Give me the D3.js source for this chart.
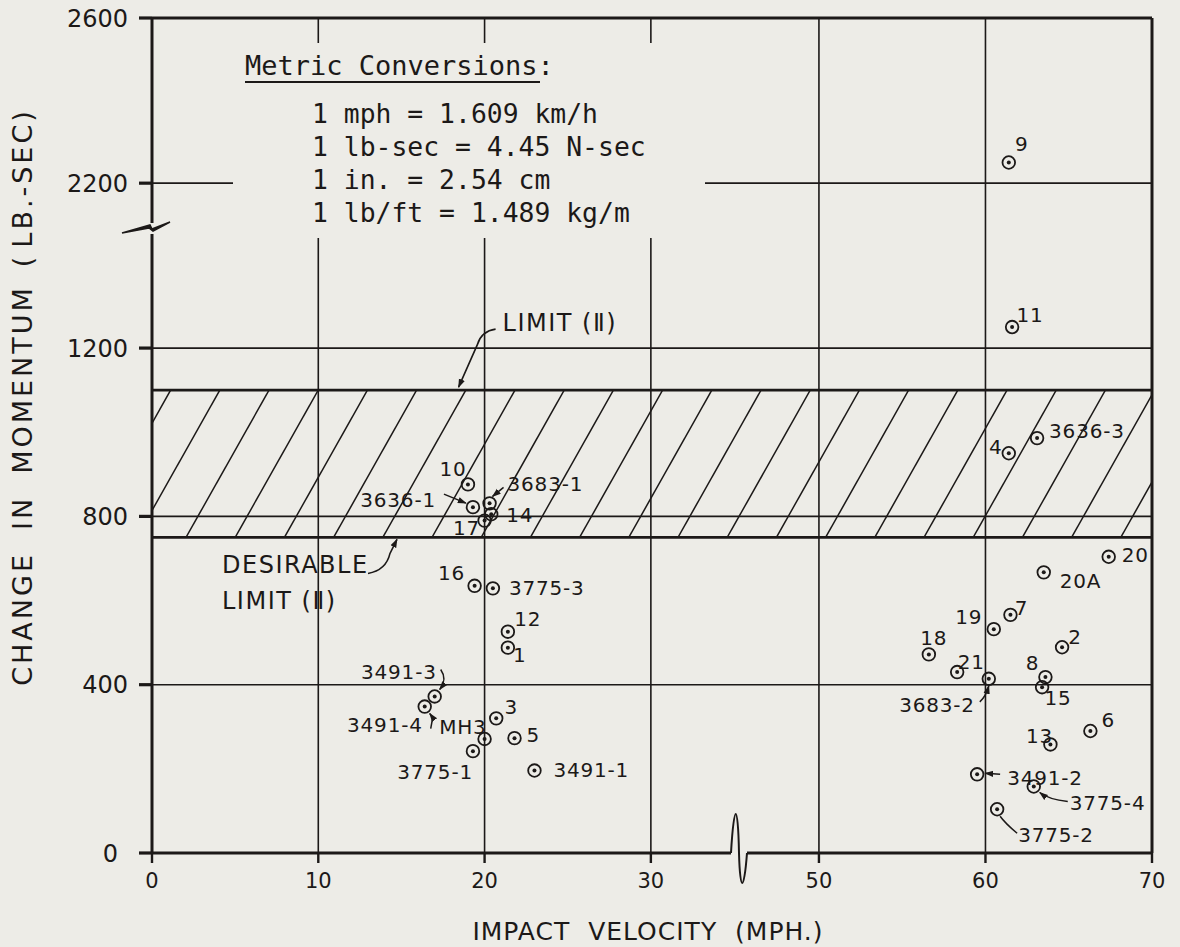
<!DOCTYPE html>
<html>
<head>
<meta charset="utf-8">
<script src="https://cdn.jsdelivr.net/npm/d3@7/dist/d3.min.js"></script>
<style>
  body { margin: 0; background: #edece7; }
  svg { display: block; }
  text { font-family: "DejaVu Sans", sans-serif; fill: #1c1918; }
  .mono { font-family: "DejaVu Sans Mono", monospace; }
</style>
</head>
<body>
<div id="chart"></div>
<script>
// Test identifiers and readings (impact velocity in mph, change in momentum in lb-sec)
const testIds = ["10", "3636-1", "3683-1", "14", "17", "16", "3775-3", "12", "1", "3491-3",
  "3491-4", "3", "MH3", "5", "3775-1", "3491-1", "20", "20A", "7", "19",
  "2", "18", "21", "8", "3683-2", "15", "6", "13", "3491-2", "3775-4",
  "3775-2", "4", "3636-3", "9", "11"];
const velocityMph = [19.0, 19.3, 20.3, 20.4, 20.0, 19.4, 20.5, 21.4, 21.4, 17.0,
  16.4, 20.7, 20.0, 21.8, 19.3, 23.0, 67.4, 63.5, 61.5, 60.5,
  64.6, 56.6, 58.3, 63.6, 60.2, 63.4, 66.3, 63.9, 59.5, 62.9,
  60.7, 61.4, 63.1, 61.4, 61.6];
const momentumLbSec = [876, 822, 831, 805, 790, 635, 629, 526, 488, 372,
  348, 320, 271, 273, 242, 196, 704, 667, 566, 532,
  489, 472, 430, 418, 414, 394, 290, 258, 187, 158,
  104, 950, 986, 2250, 1250];

const xTicks = [0, 10, 20, 30, 50, 60, 70];
const yTicks = [0, 400, 800, 1200, 2200, 2600];
const xBreak = [35.3, 45.2];     // axis break on velocity
const yBreak = [1483, 2089];     // axis break on momentum
const desirableLimit = 750;
const maxLimit = 1100;
const conversions = ["1 mph = 1.609 km/h", "1 lb-sec = 4.45 N-sec", "1 in. = 2.54 cm", "1 lb/ft = 1.489 kg/m"];

// Label placement: [anchor, dx, dy] relative to the marker
const labelLayout = {
  "10": ["middle", -15, -16], "3636-1": ["end", -37, -7], "3683-1": ["start", 18, -20],
  "14": ["start", 15, 1], "17": ["middle", -18, 7], "16": ["middle", -23, -13],
  "3775-3": ["start", 16, -1], "12": ["middle", 20, -13], "1": ["middle", 12, 7],
  "3491-3": ["end", 2, -25], "3491-4": ["end", -2, 18], "3": ["middle", 15, -12],
  "MH3": ["end", 2, -12], "5": ["start", 12, -3], "3775-1": ["end", 0, 21],
  "3491-1": ["start", 19, -1], "20": ["start", 13, -2], "20A": ["start", 16, 8],
  "7": ["middle", 11, -7], "19": ["middle", -25, -12], "2": ["middle", 13, -10],
  "18": ["middle", 5, -17], "21": ["middle", 14, -10], "8": ["middle", -13, -14],
  "3683-2": ["end", -14, 26], "15": ["middle", 16, 11], "6": ["middle", 18, -11],
  "13": ["middle", -11, -9], "3491-2": ["start", 30, 3], "3775-4": ["start", 36, 16],
  "3775-2": ["start", 21, 26], "4": ["middle", -13, -6], "3636-3": ["start", 12, -7],
  "9": ["middle", 13, -19], "11": ["middle", 18, -12]
};

// Leader lines from label to marker (relative path, arrowhead flag)
const leaders = {
  "3636-1": ["M-29,-13 L-7,-4", true],
  "3683-1": ["M14,-16 L3,-7", true],
  "3491-3": ["M6,-27 Q13,-17 5,-7", true],
  "3491-4": ["M6,22 L8,11 L5,7", true],
  "3683-2": ["M-9,23 Q-3,18 0,7", true],
  "3491-2": ["M23,0 L8,-1", true],
  "3775-4": ["M34,15 Q15,13 6,6", true],
  "3775-2": ["M20,24 Q8,14 3,7", false]
};

const width = 1180, height = 947;
const frame = { left: 152, right: 1152, top: 18, bottom: 853 };
const ink = "#1c1918";

const x = d3.scaleLinear()
  .domain([0, xBreak[0], xBreak[1], 70])
  .range([frame.left, 739, 739, frame.right]);
const y = d3.scaleLinear()
  .domain([0, yBreak[0], yBreak[1], 2600])
  .range([frame.bottom, 229, 229, frame.top]);

const svg = d3.select("#chart").append("svg")
  .attr("width", width).attr("height", height);

const defs = svg.append("defs");
defs.append("marker")
  .attr("id", "arrow")
  .attr("viewBox", "0 0 10 10")
  .attr("refX", 9).attr("refY", 5)
  .attr("markerWidth", 9).attr("markerHeight", 9)
  .attr("markerUnits", "userSpaceOnUse")
  .attr("orient", "auto")
  .append("path").attr("d", "M0,1.5 L10,5 L0,8.5 Z").attr("fill", ink);

// Region kept clear for the conversion note
const noteBox = { x0: 233, x1: 705, y0: 43, y1: 238 };

// Hatched band between desirable limit and limit
const bandTop = y(maxLimit), bandBottom = y(desirableLimit);
defs.append("clipPath").attr("id", "bandClip")
  .append("rect")
  .attr("x", frame.left).attr("y", bandTop)
  .attr("width", frame.right - frame.left).attr("height", bandBottom - bandTop);
const hatchStep = 49.2, hatchRun = 83;
const hatchStarts = d3.range(-3, 24).map((k) => frame.left + 34 + k * hatchStep);
svg.append("g").attr("clip-path", "url(#bandClip)")
  .selectAll("line").data(hatchStarts).join("line")
  .attr("x1", (d) => d).attr("y1", bandBottom)
  .attr("x2", (d) => d + hatchRun).attr("y2", bandTop)
  .attr("stroke", ink).attr("stroke-width", 1.5);

// Grid lines (interrupted by the note box)
const grid = svg.append("g").attr("stroke", ink).attr("stroke-width", 1.6);
xTicks.filter((t) => t > 0 && t < 70).forEach((t) => {
  const px = x(t);
  const segs = px > noteBox.x0 && px < noteBox.x1
    ? [[frame.top, noteBox.y0], [noteBox.y1, frame.bottom]]
    : [[frame.top, frame.bottom]];
  segs.forEach(([a, b]) => grid.append("line").attr("x1", px).attr("x2", px).attr("y1", a).attr("y2", b));
});
yTicks.filter((t) => t > 0 && t < 2600).forEach((t) => {
  const py = y(t);
  const segs = py > noteBox.y0 && py < noteBox.y1
    ? [[frame.left, noteBox.x0], [noteBox.x1, frame.right]]
    : [[frame.left, frame.right]];
  segs.forEach(([a, b]) => grid.append("line").attr("y1", py).attr("y2", py).attr("x1", a).attr("x2", b));
});

// Limit lines
svg.append("g").selectAll("line").data([desirableLimit, maxLimit]).join("line")
  .attr("x1", frame.left).attr("x2", frame.right)
  .attr("y1", (d) => y(d)).attr("y2", (d) => y(d))
  .attr("stroke", ink).attr("stroke-width", 2.6);

// Frame and axes with breaks
const axes = svg.append("g").attr("stroke", ink).attr("stroke-width", 3).attr("fill", "none");
const xb = x(xBreak[0]), yb = y(yBreak[0]);
axes.append("line").attr("x1", frame.left).attr("x2", frame.right).attr("y1", frame.top).attr("y2", frame.top);
axes.append("line").attr("x1", frame.right).attr("x2", frame.right).attr("y1", frame.top).attr("y2", frame.bottom);
axes.append("line").attr("x1", frame.left).attr("x2", frame.left).attr("y1", frame.top).attr("y2", yb - 6);
axes.append("line").attr("x1", frame.left).attr("x2", frame.left).attr("y1", yb + 5).attr("y2", frame.bottom);
axes.append("line").attr("x1", frame.left - 1).attr("x2", xb - 8).attr("y1", frame.bottom).attr("y2", frame.bottom);
axes.append("line").attr("x1", xb + 8).attr("x2", frame.right + 1).attr("y1", frame.bottom).attr("y2", frame.bottom);
axes.append("path")
  .attr("stroke-width", 2)
  .attr("d", `M${xb - 8},${frame.bottom} C${xb - 5},${frame.bottom - 52} ${xb - 1},${frame.bottom - 52} ${xb},${frame.bottom}
    C${xb + 1},${frame.bottom + 40} ${xb + 5},${frame.bottom + 40} ${xb + 8},${frame.bottom}`);
axes.append("path")
  .attr("stroke-width", 1.5).attr("fill", ink)
  .attr("d", `M${frame.left - 30},${yb + 4} L${frame.left - 2},${yb - 4} L${frame.left},${yb}
    L${frame.left + 18},${yb - 7} L${frame.left + 1},${yb + 2} L${frame.left - 3},${yb - 1} Z`);

// Ticks and tick labels
svg.append("g").selectAll("line").data(yTicks).join("line")
  .attr("x1", frame.left - 13).attr("x2", frame.left)
  .attr("y1", (d) => y(d)).attr("y2", (d) => y(d))
  .attr("stroke", ink).attr("stroke-width", 3.2);
svg.append("g").selectAll("text").data(yTicks).join("text")
  .attr("x", (d) => (d === 0 ? frame.left - 34 : frame.left - 24))
  .attr("y", (d) => y(d)).attr("dy", "0.36em")
  .attr("text-anchor", "end").attr("font-size", 24)
  .text((d) => d);
svg.append("g").selectAll("line").data(xTicks).join("line")
  .attr("x1", (d) => x(d)).attr("x2", (d) => x(d))
  .attr("y1", frame.bottom).attr("y2", frame.bottom + 10)
  .attr("stroke", ink).attr("stroke-width", 2.4);
svg.append("g").selectAll("text").data(xTicks).join("text")
  .attr("x", (d) => x(d)).attr("y", frame.bottom + 27).attr("dy", "0.36em")
  .attr("text-anchor", "middle").attr("font-size", 21)
  .text((d) => d);

// Axis titles
const yTitle = svg.append("text")
  .attr("transform", `translate(32, ${397}) rotate(-90)`)
  .attr("text-anchor", "middle").attr("font-size", 27)
  .attr("letter-spacing", 3);
yTitle.append("tspan").text("CHANGE");
yTitle.append("tspan").attr("dx", 22).text("IN");
yTitle.append("tspan").attr("dx", 22).text("MOMENTUM");
yTitle.append("tspan").attr("dx", 18).text("(");
yTitle.append("tspan").attr("dx", 6).text("LB.-SEC)");
svg.append("text")
  .attr("x", 648).attr("y", 940)
  .attr("text-anchor", "middle").attr("font-size", 25)
  .attr("letter-spacing", 1).attr("word-spacing", 9)
  .text("IMPACT VELOCITY (MPH.)");

// Conversion note
svg.append("text").attr("class", "mono")
  .attr("x", 245).attr("y", 75).attr("font-size", 27)
  .text("Metric Conversions:");
svg.append("line").attr("x1", 245).attr("x2", 540).attr("y1", 82).attr("y2", 82)
  .attr("stroke", ink).attr("stroke-width", 2);
svg.append("g").selectAll("text").data(conversions).join("text")
  .attr("class", "mono")
  .attr("x", 312).attr("y", (d, i) => 123 + i * 33)
  .attr("font-size", 26.4)
  .text((d) => d);

// Limit annotations
const ann = svg.append("g");
ann.append("text").attr("x", x(20) + 18).attr("y", bandTop - 59)
  .attr("font-size", 24).attr("letter-spacing", 1.5).text("LIMIT (\u2161)");
ann.append("path")
  .attr("d", `M${x(20) + 11},${bandTop - 61} Q${x(20) - 3},${bandTop - 59} ${x(20) - 7},${bandTop - 46} L${x(20) - 26},${bandTop - 3}`)
  .attr("fill", "none").attr("stroke", ink).attr("stroke-width", 1.6).attr("marker-end", "url(#arrow)");
ann.append("text").attr("x", 222).attr("y", bandBottom + 36)
  .attr("font-size", 24).attr("letter-spacing", 1.5).text("DESIRABLE");
ann.append("text").attr("x", 222).attr("y", bandBottom + 72)
  .attr("font-size", 24).attr("letter-spacing", 1.5).text("LIMIT (\u2161)");
ann.append("path")
  .attr("d", `M368,${bandBottom + 36} Q386,${bandBottom + 33} 390,${bandBottom + 16} L397,${bandBottom + 2}`)
  .attr("fill", "none").attr("stroke", ink).attr("stroke-width", 1.6).attr("marker-end", "url(#arrow)");

// Data points
const points = testIds.map((id, i) => ({ id, v: velocityMph[i], m: momentumLbSec[i] }));
const pts = svg.append("g").selectAll("g.pt").data(points).join("g")
  .attr("class", "pt")
  .attr("transform", (d) => `translate(${x(d.v)},${y(d.m)})`);
pts.append("circle").attr("r", 6.3)
  .attr("fill", "none").attr("stroke", ink).attr("stroke-width", 1.8);
pts.append("circle").attr("r", 2).attr("fill", ink);
pts.filter((d) => leaders[d.id]).append("path")
  .attr("d", (d) => leaders[d.id][0])
  .attr("fill", "none").attr("stroke", ink).attr("stroke-width", 1.5)
  .attr("marker-end", (d) => (leaders[d.id][1] ? "url(#arrow)" : null));
pts.append("text")
  .attr("x", (d) => labelLayout[d.id][1])
  .attr("y", (d) => labelLayout[d.id][2])
  .attr("dy", "0.36em")
  .attr("text-anchor", (d) => labelLayout[d.id][0])
  .attr("font-size", 20).attr("letter-spacing", 0.8)
  .text((d) => d.id);
</script>
</body>
</html>
